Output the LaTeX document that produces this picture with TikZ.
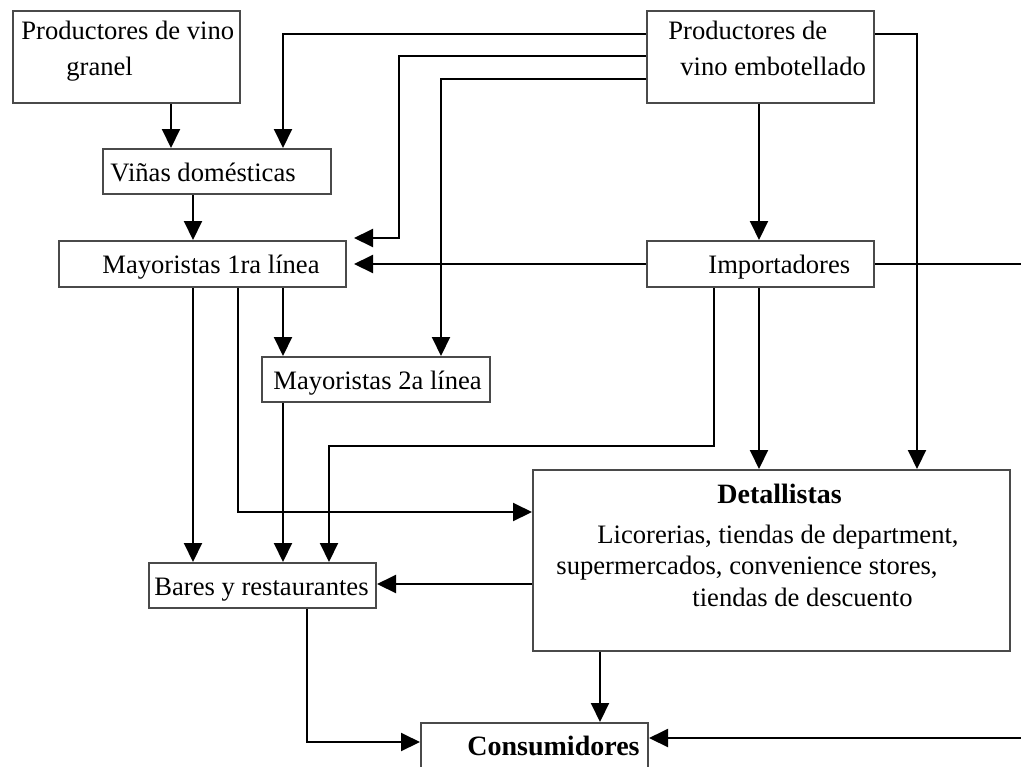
\documentclass[tikz,border=0pt]{standalone}
\usepackage{fontspec}
\setmainfont{Liberation Serif}
\usetikzlibrary{arrows.meta,calc}
\definecolor{BoxGray}{HTML}{4A4A4A}

\begin{document}
\begin{tikzpicture}[x=0.5pt,y=-0.5pt,
  every node/.style={font=\fontsize{13.3}{16}\selectfont},
  box/.style 2 args={draw=BoxGray, line width=1pt, minimum width=#1*0.5pt,
    minimum height=#2*0.5pt, inner sep=0pt, anchor=north west},
  txt/.style={anchor=base west, inner sep=0pt},
  boldtxt/.style={txt, font=\fontsize{14}{16}\selectfont\bfseries},
  flow/.style={line width=1pt, -{Triangle[length=9.5pt,width=9pt]}},
  line/.style={line width=1pt}]
  \useasboundingbox (0,0) rectangle (1021,766);

  % boxes
  \node[box={227}{92}] (pg) at (12,10) {};
  \node[box={227}{92}] (pe) at (646,10) {};
  \node[box={228}{45}] (vin) at (102,148) {};
  \node[box={287}{46}] (m1) at (58,240) {};
  \node[box={227}{46}] (imp) at (646,240) {};
  \node[box={228}{45}] (m2) at (261,356) {};
  \node[box={227}{45}] (bar) at (148,562) {};
  \node[box={477}{181}] (det) at (532,469) {};
  \node[box={227}{45}] (con) at (420,722) {};

  % labels
  \node[txt] (pgA) at (21,39) {Productores de vino};
  \node[txt] (pgB) at (66,75) {granel};
  \node[txt] (peA) at (668,39) {Productores de};
  \node[txt] (peB) at (680,75) {vino embotellado};
  \node[txt] (vinT) at (110,181) {Viñas domésticas};
  \node[txt] (m1T) at (102,273) {Mayoristas 1ra línea};
  \node[txt] (impT) at (708,273) {Importadores};
  \node[txt] (m2T) at (273,389) {Mayoristas 2a línea};
  \node[txt] (barT) at (154,595) {Bares y restaurantes};
  \node[boldtxt] (detT) at (717,503) {Detallistas};
  \node[txt] (detA) at (597,543) {Licorerias, tiendas de department,};
  \node[txt] (detB) at (556,574) {supermercados, convenience stores,};
  \node[txt] (detC) at (692,606) {tiendas de descuento};
  \node[boldtxt] (conT) at (467,755) {Consumidores};

  \coordinate (offA) at (1021,264);
  \coordinate (offB) at (1021,738);

  % connectors
  \draw[flow] ($(pg.south west)+(159,0)$) -- ($(vin.north west)+(69,0)$);
  \draw[flow] ($(pe.north west)+(0,24)$) -| ($(vin.north west)+(181,0)$);
  \draw[flow] ($(pe.north west)+(0,46)$) -| ($(m1.north east)+(52,-2)$) -- ($(m1.north east)+(7,-2)$);
  \draw[flow] ($(pe.north west)+(0,69)$) -| ($(m2.north west)+(180,0)$);
  \draw[flow] ($(pe.north east)+(0,24)$) -| ($(det.north west)+(385,0)$);
  \draw[flow] ($(pe.south west)+(113,0)$) -- ($(imp.north west)+(113,0)$);
  \draw[flow] ($(vin.south west)+(91,0)$) -- ($(m1.north west)+(135,0)$);
  \draw[flow] ($(imp.north west)+(0,24)$) -- ($(m1.north east)+(7,24)$);
  \draw[line] ($(imp.north east)+(0,24)$) -- (offA);
  \draw[flow] ($(imp.south west)+(68,0)$) -- ($(imp.south west)+(68,158)$) -| ($(bar.north west)+(181,0)$);
  \draw[flow] ($(imp.south west)+(113,0)$) -- ($(det.north west)+(227,0)$);
  \draw[flow] ($(m1.south west)+(135,0)$) -- ($(bar.north west)+(45,0)$);
  \draw[flow] ($(m1.south west)+(180,0)$) |- ($(det.north west)+(0,43)$);
  \draw[flow] ($(m1.south west)+(225,0)$) -- ($(m2.north west)+(22,0)$);
  \draw[flow] ($(m2.south west)+(22,0)$) -- ($(bar.north west)+(135,0)$);
  \draw[flow] ($(det.north west)+(0,115)$) -- ($(bar.north east)+(0,22)$);
  \draw[flow] ($(bar.south west)+(159,0)$) |- ($(con.north west)+(0,20)$);
  \draw[flow] ($(det.south west)+(68,0)$) -- ($(con.north west)+(180,0)$);
  \draw[flow] (offB) -- ($(con.north east)+(0,16)$);
\end{tikzpicture}
\end{document}
